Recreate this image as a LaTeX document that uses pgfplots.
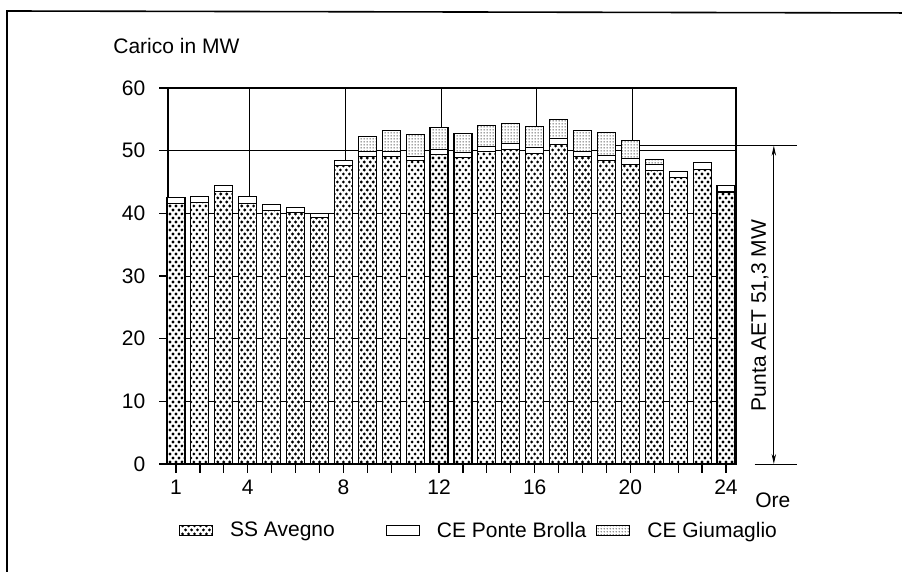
\documentclass[border=0pt]{standalone}
\usepackage{fontspec}
\setmainfont{Liberation Sans}
\usepackage{pgfplots}
\usepackage{pgfplotstable}
\pgfplotsset{compat=1.18}
\usetikzlibrary{arrows.meta,patterns.meta}

\tikzdeclarepattern{
  name=finedots, type=uncolored,
  bottom left={(0pt,0pt)}, top right={(1.5pt,1.5pt)}, tile size={(1.5pt,1.5pt)},
  code={\fill (0.75pt,0.75pt) circle (0.36pt);}
}

\tikzset{
 dotfill/.style n args={3}{path picture={%
   \pgfpointdiff{\pgfpointanchor{path picture bounding box}{south west}}{\pgfpointanchor{path picture bounding box}{north east}}%
   \pgfgetlastxy{\dfw}{\dfh}%
   \pgfmathtruncatemacro\dfnc{\dfw/#1+1}%
   \pgfmathtruncatemacro\dfnr{\dfh/#2+1}%
   \pgfsetfillcolor{black}%
   \foreach \r in {0,...,\dfnr}{%
     \pgfmathsetmacro\dfy{\r*#2+0.5*#2}%
     \pgfmathsetmacro\dfo{mod(\r,2)*#1/2+0.5*#1}%
     \foreach \c in {0,...,\dfnc}{%
       \pgfmathsetmacro\dfx{\c*#1+\dfo}%
       \pgfpathcircle{\pgfpointadd{\pgfpointanchor{path picture bounding box}{south west}}{\pgfpoint{\dfx pt}{\dfy pt}}}{#3pt}%
     }%
     \pgfusepath{fill}%
   }%
 }}
}

\pgfplotstableread{
h A PB G
1 41.55 0.98 0
2 41.7 1.0 0
3 43.5 0.95 0
4 41.6 1.1 0
5 40.5 0.97 0
6 40.1 0.8 0
7 39.3 0.7 0
8 47.6 0.85 0
9 49.0 0.82 2.38
10 49.1 0.7 3.35
11 48.4 0.6 3.6
12 49.4 0.8 3.5
13 48.9 0.8 3.05
14 49.8 0.9 3.25
15 50.25 0.9 3.25
16 49.6 0.9 3.35
17 51.0 0.9 3.1
18 49.0 0.9 3.3
19 48.4 0.9 3.6
20 47.75 1.05 2.8
21 46.8 1.0 0.8
22 45.7 1.0 0
23 47.0 1.05 0
24 43.4 1.05 0
}\loadtable

\begin{document}
\begin{tikzpicture}[font=\fontsize{10.5}{12.6}\selectfont]
\useasboundingbox (0pt,0pt) rectangle (451pt,-286pt);
\draw[line width=0.8pt] (3.5pt,-300pt) -- (3.5pt,-5.5pt) -- (460pt,-6.5pt);
\begin{axis}[
  at={(84pt,-232pt)}, anchor=south west,
  scale only axis, width=284pt, height=188pt,
  ybar stacked, bar width=0.753,
  xmin=0.6655, xmax=24.418, ymin=0, ymax=60,
  xtick={1,...,24},
  xticklabels={1,,,4,,,,8,,,,12,,,,16,,,,20,,,,24},
  ytick={0,10,...,60},
  tick align=outside, xtick pos=left, ytick pos=left,
  major tick length=4.3pt,
  tick style={black, line width=0.6pt},
  axis line style={line width=0.7pt},
  extra x ticks={4.08,8.08,12.08,16.08,20.08},
  extra x tick labels={},
  extra x tick style={grid=major, major tick length=0pt, major grid style={black, line width=0.45pt}},
  /pgf/number format/assume math mode=true,
  ticklabel style={font=\fontsize{10.5}{12.6}\selectfont},
  yticklabel style={xshift=-3.5pt},
  clip=false,
  legend columns=3,
  legend cell align=left,
  legend style={at={(0.0194,-0.178)}, anchor=west, draw=none, fill=none,
    inner sep=0pt, outer sep=0pt, nodes={inner sep=0pt},
    /tikz/every odd column/.append style={column sep=8.5pt},
    /tikz/column 2/.style={column sep=25.5pt},
    /tikz/column 4/.style={column sep=5pt}},
  legend image code/.code={\draw[#1] (0pt,-2.5pt) rectangle (16.5pt,2.5pt);},
]
\addplot[draw=black, line width=0.55pt, fill=white, dotfill={2.98915}{2.0}{0.78}]
  table[x=h,y=A]{\loadtable};
\addlegendentry{SS Avegno}
\addplot[draw=black, line width=0.55pt, fill=white]
  table[x=h,y=PB]{\loadtable};
\addlegendentry{CE Ponte Brolla}
\addplot[draw=black, line width=0.55pt, preaction={fill=white}, pattern=finedots, pattern color=black]
  table[x=h,y=G]{\loadtable};
\addlegendentry{CE Giumaglio}
\pgfplotsinvokeforeach{10,20,30,40,50}{
  \draw[black, line width=0.45pt] (axis cs:0.6655,#1) -- (axis cs:24.418,#1);
}
\draw[line width=0.4pt] (axis cs:19.39,50.8) -- (axis cs:19.62,50.8);
\draw[line width=0.4pt] (axis cs:20.38,50.8) -- (axis cs:26.97,50.8);
\draw[line width=1.1pt] (axis cs:0.6655,0) -- (axis cs:24.418,0);
\draw[line width=0.4pt] (axis cs:25.2,0) -- (axis cs:26.95,0);
\draw[line width=0.4pt, {Stealth[length=5pt,width=2.2pt]}-{Stealth[length=5pt,width=2.2pt]}]
  (axis cs:26.0,50.8) -- (axis cs:26.0,0);
\node[rotate=90] at (axis cs:25.42,23.7) {Punta AET 51,3 MW};
\end{axis}
\node[anchor=west, inner sep=0pt] at (56.5pt,-23pt) {Carico in MW};
\node[anchor=west, inner sep=0pt] at (377.5pt,-250pt) {Ore};
\end{tikzpicture}
\end{document}
